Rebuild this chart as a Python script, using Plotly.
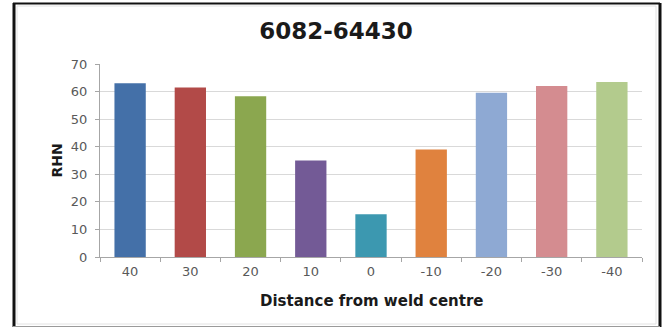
import plotly.graph_objects as go

# Hardness profile across the weld (6082-64430)
distances = ["40", "30", "20", "10", "0", "-10", "-20", "-30", "-40"]
rhn_values = [63.0, 61.5, 58.3, 35.0, 15.5, 39.0, 59.6, 62.0, 63.5]
bar_colors = ["#4470A8", "#B24A48", "#8BA74F", "#735A96", "#3C98B0",
              "#E0823E", "#8EA9D3", "#D48C90", "#B3CB8D"]

W, H = 665, 329
ML, MR, MT, MB = 100, 23, 64, 72
PW, PH = W - ML - MR, H - MT - MB

fig = go.Figure(
    go.Bar(
        x=distances,
        y=rhn_values,
        marker=dict(color=bar_colors, line=dict(width=0)),
        showlegend=False,
    )
)

def px_x(p):
    return (p - ML) / PW

def px_y(p):
    return (H - MB - p) / PH

frame = "#111111"
fig.update_layout(
    width=W,
    height=H,
    margin=dict(l=ML, r=MR, t=MT, b=MB, pad=0),
    paper_bgcolor="white",
    plot_bgcolor="white",
    bargap=0.48,
    title=dict(
        text="<b>6082-64430</b>",
        x=336 / W,
        xref="container",
        xanchor="center",
        y=1 - 31 / H,
        yref="container",
        yanchor="middle",
        font=dict(family="DejaVu Sans", size=23, color="#1A1A1A"),
    ),
    xaxis=dict(
        type="category",
        showline=True,
        linecolor="#A6A6A6",
        linewidth=1,
        ticks="outside",
        tickson="boundaries",
        ticklen=4,
        tickcolor="#A6A6A6",
        showgrid=False,
        ticklabelstandoff=2,
        tickfont=dict(family="DejaVu Sans", size=13, color="#595959"),
    ),
    yaxis=dict(
        range=[0, 70],
        dtick=10,
        showline=True,
        linecolor="#A6A6A6",
        linewidth=1,
        ticks="outside",
        ticklen=4,
        tickcolor="#A6A6A6",
        ticklabelstandoff=5,
        gridcolor="#D9D9D9",
        gridwidth=1,
        zeroline=False,
        tickfont=dict(family="DejaVu Sans", size=13, color="#595959"),
    ),
    annotations=[
        dict(
            text="<b>Distance from weld centre</b>",
            xref="paper", yref="paper",
            x=0.5, y=px_y(301),
            xanchor="center", yanchor="middle",
            showarrow=False,
            font=dict(family="DejaVu Sans", size=15, color="#1A1A1A"),
        ),
        dict(
            text="<b>RHN</b>",
            xref="paper", yref="paper",
            x=px_x(56), y=0.5,
            xanchor="center", yanchor="middle",
            textangle=-90,
            showarrow=False,
            font=dict(family="DejaVu Sans", size=14, color="#1A1A1A"),
        ),
    ],
    shapes=[
        # inner chart-area outline
        dict(type="rect", xref="paper", yref="paper",
             x0=px_x(17), x1=px_x(656), y0=px_y(324), y1=px_y(6),
             line=dict(color="#E2E2E2", width=1)),
        # outer picture frame
        dict(type="line", xref="paper", yref="paper",
             x0=px_x(14), x1=px_x(14), y0=px_y(327), y1=px_y(3),
             line=dict(color=frame, width=3)),
        dict(type="line", xref="paper", yref="paper",
             x0=px_x(13), x1=px_x(660), y0=px_y(3.5), y1=px_y(3.5),
             line=dict(color=frame, width=2)),
        dict(type="line", xref="paper", yref="paper",
             x0=px_x(660), x1=px_x(660), y0=px_y(327), y1=px_y(3),
             line=dict(color=frame, width=3)),
        dict(type="line", xref="paper", yref="paper",
             x0=px_x(13), x1=px_x(660), y0=px_y(326.5), y1=px_y(326.5),
             line=dict(color="#9A9A9A", width=1)),
    ],
)

fig.write_html("out.html")
